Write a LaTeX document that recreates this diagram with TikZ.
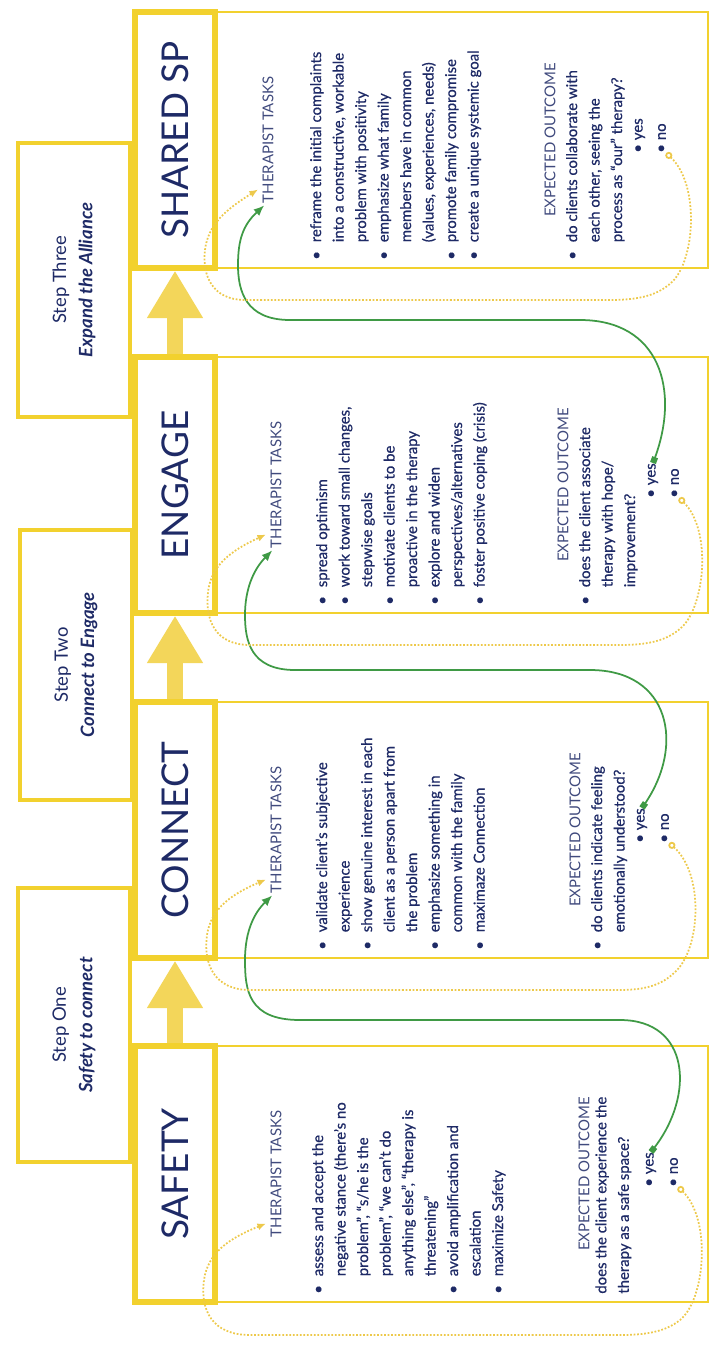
\documentclass[tikz,border=0pt]{standalone}
\usepackage{fontspec}
\setmainfont{Lato}
\newfontfamily\bodyfont{Lato}[Ligatures=TeX, FakeBold=0.6]
\usepackage{xcolor}
\usepackage{tikz}
\usetikzlibrary{arrows.meta,calc}

\definecolor{gold}{HTML}{F2D12E}
\definecolor{palegold}{HTML}{F3D65A}
\definecolor{navy}{HTML}{1E2A66}
\definecolor{leaf}{HTML}{3F9A45}
\definecolor{dotgold}{HTML}{EDC94B}

\newcommand{\bl}{\textbullet &}

\begin{document}
\begin{tikzpicture}[
  x=0.02cm, y=-0.02cm,
  font=\fontsize{8.5}{12.8}\selectfont, text=navy,
  stepbox/.style={draw=gold, line width=1.8pt, rotate=90, minimum height=2.24cm, align=center, font=\fontsize{10.5}{15}\selectfont},
  headbox/.style={draw=gold, line width=3pt, rotate=90, minimum width=5.12cm, minimum height=1.6cm, font=\fontsize{21}{24}\selectfont},
  panel/.style={draw=gold, line width=0.9pt},
  head/.style={rotate=90, inner sep=0pt, text=navy!85},
  lines/.style={rotate=90, inner sep=0pt, anchor=north west, align=left, font=\fontsize{8.5}{12.8}\bodyfont},
  ans/.style={rotate=90, inner sep=0pt, anchor=west, font=\fontsize{8.5}{12.8}\bodyfont},
  bigar/.style={draw=palegold, line width=9pt, -{Triangle[length=27pt,width=30pt]}},
  yesar/.style={leaf, line width=1pt, {Square[length=3.5pt,width=3.5pt]}-{Latex[length=6pt,width=5pt]}},
  noar/.style={dotgold, line width=1pt, densely dotted, {Circle[open,length=4pt,width=4pt]}-{Latex[length=5pt,width=4pt]}},
]
\useasboundingbox (0,0) rectangle (718,1352);

% steps on the left
\node[stepbox, minimum width=5.48cm] (step3) at (74,280) {Step Three\\ \textbf{\textit{Expand the Alliance}}};
\node[stepbox, minimum width=5.4cm] (step2) at (76,665) {Step Two\\ \textbf{\textit{Connect to Engage}}};
\node[stepbox, minimum width=5.48cm] (step1) at (74,1025) {Step One\\ \textbf{\textit{Safety to connect}}};

% content panels
\draw[panel] (215,12) rectangle (708,268);
\draw[panel] (215,357) rectangle (708,613);
\draw[panel] (215,702) rectangle (708,958);
\draw[panel] (215,1046) rectangle (708,1302);

% phase boxes
\node[headbox] (shared) at (175,140) {SHARED SP};
\node[headbox] (engage) at (175,485) {ENGAGE};
\node[headbox] (connect) at (175,830) {CONNECT};
\node[headbox] (safety) at (175,1174) {SAFETY};
\draw[bigar] (safety.east) -- (connect.west);
\draw[bigar] (connect.east) -- (engage.west);
\draw[bigar] (engage.east) -- (shared.west);

% SAFETY
\node[head] (tt1) at (276,1174) {THERAPIST TASKS};
\node[lines] (tl1) at (307,1294) {\begin{tabular}{@{}l@{\hspace{5pt}}l@{}}
\bl assess and accept the\\
 & negative stance (there’s no\\
 & problem”, “s/he is the\\
 & problem”, “we can’t do\\
 & anything else”, “therapy is\\
 & threatening”\\
\bl avoid amplification and\\
 & escalation\\
\bl maximize Safety
\end{tabular}};
\node[head] (eo1) at (584,1174) {EXPECTED OUTCOME};
\node[lines] (oc1) at (595,1294) {does the client experience the\\ therapy as a safe space?};
\node[ans] (yes1) at (651,1187) {\textbullet\ yes};
\node[ans] (no1) at (674,1187) {\textbullet\ no};

% CONNECT
\node[head] (tt2) at (276,830) {THERAPIST TASKS};
\node[lines] (tl2) at (311,950) {\begin{tabular}{@{}l@{\hspace{5pt}}l@{}}
\bl validate client’s subjective\\
 & experience\\
\bl show genuine interest in each\\
 & client as a person apart from\\
 & the problem\\
\bl emphasize something in\\
 & common with the family\\
\bl maximaze Connection
\end{tabular}};
\node[head] (eo2) at (575,830) {EXPECTED OUTCOME};
\node[lines] (oc2) at (586,950) {\begin{tabular}{@{}l@{\hspace{5pt}}l@{}}
\bl do clients indicate feeling\\
 & emotionally understood?
\end{tabular}};
\node[ans] (yes2) at (642,843) {\textbullet\ yes};
\node[ans] (no2) at (665,843) {\textbullet\ no};

% ENGAGE
\node[head] (tt3) at (276,485) {THERAPIST TASKS};
\node[lines] (tl3) at (311,605) {\begin{tabular}{@{}l@{\hspace{5pt}}l@{}}
\bl spread optimism\\
\bl work toward small changes,\\
 & stepwise goals\\
\bl motivate clients to be\\
 & proactive in the therapy\\
\bl explore and widen\\
 & perspectives/alternatives\\
\bl foster positive coping (crisis)
\end{tabular}};
\node[head] (eo3) at (563,485) {EXPECTED OUTCOME};
\node[lines] (oc3) at (574,605) {\begin{tabular}{@{}l@{\hspace{5pt}}l@{}}
\bl does the client associate\\
 & therapy with hope/\\
 & improvement?
\end{tabular}};
\node[ans] (yes3) at (653,498) {\textbullet\ yes};
\node[ans] (no3) at (675,498) {\textbullet\ no};

% SHARED SP
\node[head] (tt4) at (268,140) {THERAPIST TASKS};
\node[lines] (tl4) at (305,260) {\begin{tabular}{@{}l@{\hspace{5pt}}l@{}}
\bl reframe the initial complaints\\
 & into a constructive, workable\\
 & problem with positivity\\
\bl emphasize what family\\
 & members have in common\\
 & (values, experiences, needs)\\
\bl promote family compromise\\
\bl create a unique systemic goal
\end{tabular}};
\node[head] (eo4) at (550,140) {EXPECTED OUTCOME};
\node[lines] (oc4) at (561,260) {\begin{tabular}{@{}l@{\hspace{5pt}}l@{}}
\bl do clients collaborate with\\
 & each other, seeing the\\
 & process as “our” therapy?
\end{tabular}};
\node[ans] (yes4) at (640,153) {\textbullet\ yes};
\node[ans] (no4) at (662,153) {\textbullet\ no};

% yes: on to the next phase
\draw[yesar] (yes1.east) .. controls (695,1095) and (690,1020) .. (620,1020) -- (300,1020)
  .. controls (248,1020) and (245,990) .. (245,960) .. controls (245,930) and (255,912) .. ($(tt2.north west)+(2,2)$);
\draw[yesar] (yes2.east) .. controls (685,745) and (670,670) .. (590,670) -- (295,670)
  .. controls (250,670) and (245,640) .. (245,615) .. controls (245,590) and (253,570) .. ($(tt3.north west)+(2,2)$);
\draw[yesar] (yes3.east) .. controls (680,390) and (660,320) .. (580,320) -- (290,320)
  .. controls (245,320) and (238,290) .. (238,265) .. controls (238,240) and (243,225) .. ($(tt4.north west)+(2,2)$);

% no: back to the tasks of the same phase
\draw[noar] (no1.south west) .. controls (712,1220) and (705,1300) .. (680,1320) .. controls (665,1332) and (645,1335) .. (620,1335) -- (250,1335)
  .. controls (212,1335) and (200,1310) .. (204,1280) .. controls (208,1252) and (230,1238) .. ($(tt1.north west)+(-4,-14)$);
\draw[noar] (no2.south west) .. controls (705,875) and (700,950) .. (675,972) .. controls (662,985) and (645,990) .. (620,990) -- (250,990)
  .. controls (215,990) and (203,965) .. (207,935) .. controls (211,908) and (232,894) .. ($(tt2.north west)+(-4,-14)$);
\draw[noar] (no3.south west) .. controls (712,530) and (705,605) .. (682,627) .. controls (668,640) and (650,645) .. (620,645) -- (250,645)
  .. controls (215,645) and (205,620) .. (208,592) .. controls (211,565) and (232,550) .. ($(tt3.north west)+(-4,-14)$);
\draw[noar] (no4.south west) .. controls (700,185) and (695,260) .. (672,282) .. controls (658,295) and (640,300) .. (610,300) -- (245,300)
  .. controls (212,300) and (202,275) .. (205,250) .. controls (208,225) and (225,210) .. ($(tt4.north west)+(-4,-14)$);
\end{tikzpicture}
\end{document}
